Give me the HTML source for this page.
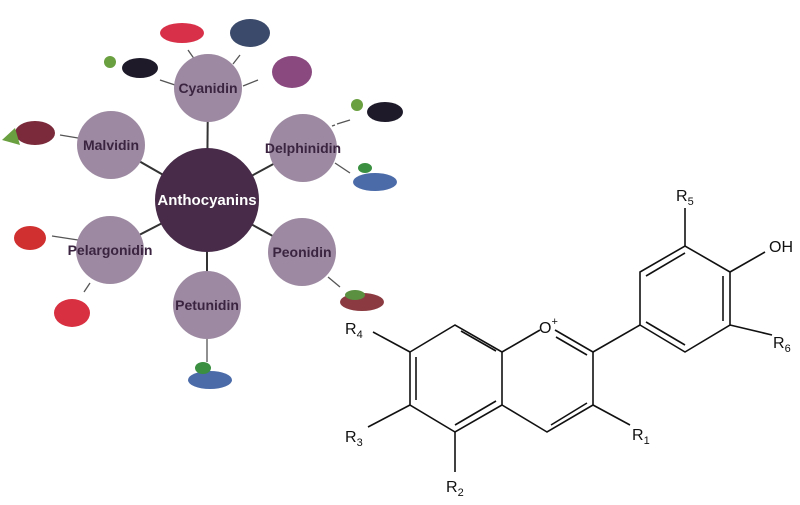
<!DOCTYPE html>
<html><head><style>
body{margin:0;background:#fff;width:800px;height:500px;overflow:hidden}
svg text{font-family:"Liberation Sans",sans-serif}
</style></head><body>
<svg width="800" height="500" viewBox="0 0 800 500">
<g stroke="#333" stroke-width="2">
<line x1="207" y1="200" x2="208" y2="88"/>
<line x1="207" y1="200" x2="111" y2="145"/>
<line x1="207" y1="200" x2="303" y2="148"/>
<line x1="207" y1="200" x2="110" y2="250"/>
<line x1="207" y1="200" x2="302" y2="252"/>
<line x1="207" y1="200" x2="207" y2="305"/>
</g>
<g stroke="#555" stroke-width="1.3">
<line x1="188" y1="50" x2="195" y2="60"/><line x1="240" y1="55" x2="233" y2="64"/>
<line x1="258" y1="80" x2="243" y2="86"/><line x1="160" y1="80" x2="175" y2="85"/>
<line x1="60" y1="135" x2="78" y2="138"/><line x1="335" y1="125" x2="332" y2="126"/>
<line x1="337" y1="124" x2="350" y2="120"/><line x1="335" y1="163" x2="350" y2="173"/>
<line x1="52" y1="236" x2="78" y2="240"/><line x1="90" y1="283" x2="84" y2="292"/>
<line x1="328" y1="277" x2="340" y2="287"/><line x1="207" y1="338" x2="207" y2="362"/>
</g>
<g fill="#9d8aa2">
<circle cx="208" cy="88" r="34"/><circle cx="111" cy="145" r="34"/>
<circle cx="303" cy="148" r="34"/><circle cx="110" cy="250" r="34"/>
<circle cx="302" cy="252" r="34"/><circle cx="207" cy="305" r="34"/>
</g>
<circle cx="207" cy="200" r="52" fill="#472b48"/>
<g font-size="14" fill="#3a2440" text-anchor="middle" font-weight="bold">
<text x="208" y="93">Cyanidin</text><text x="111" y="150">Malvidin</text>
<text x="303" y="153">Delphinidin</text><text x="110" y="255">Pelargonidin</text>
<text x="302" y="257">Peonidin</text><text x="207" y="310">Petunidin</text>
</g>
<text x="207" y="205" font-size="15" fill="#fff" text-anchor="middle" font-weight="bold">Anthocyanins</text>
<!-- fruits -->
<g>
<ellipse cx="182" cy="33" rx="22" ry="10" fill="#d83048"/>
<ellipse cx="250" cy="33" rx="20" ry="14" fill="#3b4a6a"/>
<ellipse cx="292" cy="72" rx="20" ry="16" fill="#8a4a80"/>
<ellipse cx="140" cy="68" rx="18" ry="10" fill="#1e1a2a"/><circle cx="110" cy="62" r="6" fill="#6aa040"/>
<ellipse cx="35" cy="133" rx="20" ry="12" fill="#7a2a3a"/><polygon points="2,140 15,128 20,145" fill="#6aa040"/>
<ellipse cx="385" cy="112" rx="18" ry="10" fill="#1e1a2a"/><circle cx="357" cy="105" r="6" fill="#6aa040"/>
<ellipse cx="375" cy="182" rx="22" ry="9" fill="#4a6aa8"/><ellipse cx="365" cy="168" rx="7" ry="5" fill="#3a9040"/>
<ellipse cx="30" cy="238" rx="16" ry="12" fill="#d03030"/>
<ellipse cx="72" cy="313" rx="18" ry="14" fill="#d83040"/>
<ellipse cx="362" cy="302" rx="22" ry="9" fill="#8a3a40"/><ellipse cx="355" cy="295" rx="10" ry="5" fill="#5a9040"/>
<ellipse cx="210" cy="380" rx="22" ry="9" fill="#4a6aa8"/><ellipse cx="203" cy="368" rx="8" ry="6" fill="#3a9040"/>
</g>
<!-- structure -->
<g stroke="#111" stroke-width="1.6" fill="none">
<polyline points="410,352 455,325 502,352 502,405 455,432 410,405 410,352"/>
<line x1="416" y1="357" x2="416" y2="400"/>
<line x1="455" y1="425" x2="496" y2="401"/>
<line x1="461" y1="331" x2="496" y2="351"/>
<polyline points="502,352 540,330"/>
<polyline points="555,330 593,352 593,405 547,432 502,405"/>
<line x1="556" y1="337" x2="587" y2="355"/>
<line x1="551" y1="425" x2="587" y2="403"/>
<line x1="593" y1="352" x2="640" y2="325"/>
<polyline points="640,325 640,272 685,246 730,272 730,325 685,352 640,325"/>
<line x1="646" y1="276" x2="685" y2="253"/>
<line x1="723" y1="276" x2="723" y2="321"/>
<line x1="646" y1="322" x2="685" y2="345"/>
<line x1="410" y1="352" x2="373" y2="332"/>
<line x1="410" y1="405" x2="368" y2="427"/>
<line x1="455" y1="432" x2="455" y2="472"/>
<line x1="593" y1="405" x2="630" y2="425"/>
<line x1="730" y1="325" x2="772" y2="335"/>
<line x1="730" y1="272" x2="765" y2="252"/>
<line x1="685" y1="246" x2="685" y2="208"/>
</g>
<g font-size="16" fill="#111">
<text x="345" y="334">R<tspan font-size="11" dy="4">4</tspan></text>
<text x="345" y="442">R<tspan font-size="11" dy="4">3</tspan></text>
<text x="446" y="492">R<tspan font-size="11" dy="4">2</tspan></text>
<text x="632" y="440">R<tspan font-size="11" dy="4">1</tspan></text>
<text x="773" y="348">R<tspan font-size="11" dy="4">6</tspan></text>
<text x="676" y="201">R<tspan font-size="11" dy="4">5</tspan></text>
<text x="769" y="252">OH</text>
<text x="539" y="333">O<tspan font-size="11" dy="-8">+</tspan></text>
</g>
</svg>
</body></html>
